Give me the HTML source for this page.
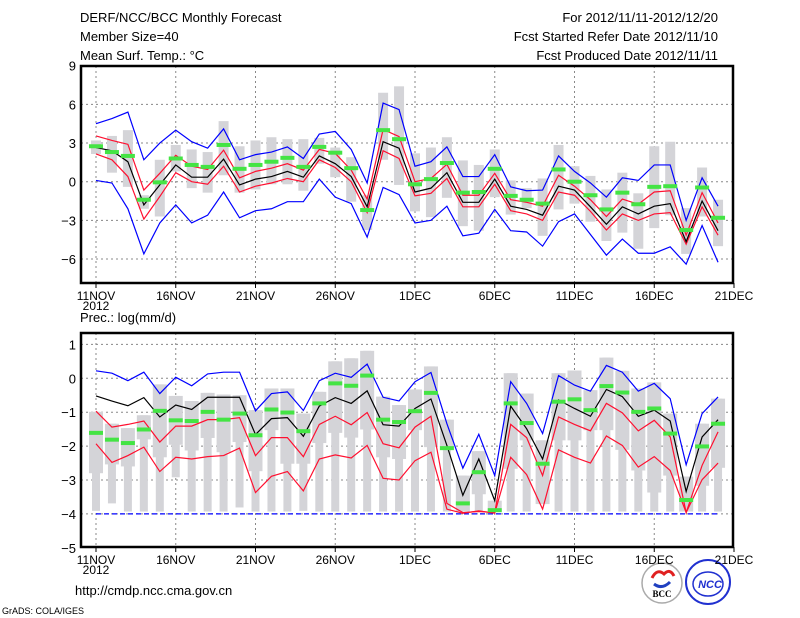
<!DOCTYPE html>
<html><head><meta charset="utf-8"><style>
body{margin:0;background:#fff;width:800px;height:618px;overflow:hidden}
svg{display:block;font-family:"Liberation Sans",sans-serif}
</style></head><body>
<svg id="chart" width="800" height="618" viewBox="0 0 800 618">
<g font-size="13" fill="#000">
<text x="80" y="22">DERF/NCC/BCC Monthly Forecast</text>
<text x="80" y="41">Member Size=40</text>
<text x="80" y="60">Mean Surf. Temp.: °C</text>
<text x="718" y="22" text-anchor="end">For 2012/11/11-2012/12/20</text>
<text x="718" y="41" text-anchor="end">Fcst Started Refer Date 2012/11/10</text>
<text x="718" y="60" text-anchor="end">Fcst Produced Date 2012/11/11</text>
<text x="80" y="322">Prec.: log(mm/d)</text>
<text x="75" y="595">http://cmdp.ncc.cma.gov.cn</text>
<text x="2" y="614" font-size="9">GrADS: COLA/IGES</text>
</g>
<g>
<circle cx="662" cy="583" r="20" fill="#fff" stroke="#aaa" stroke-width="1.5"/>
<path d="M652 578 q5 -10 12 -4 q6 -6 10 2" fill="none" stroke="#e02020" stroke-width="3"/>
<path d="M654 584 q8 6 16 -2" fill="none" stroke="#2040c0" stroke-width="3"/>
<text x="662" y="597" font-size="9" font-weight="bold" text-anchor="middle" font-family="Liberation Serif,serif">BCC</text>
</g>
<g>
<circle cx="708" cy="582" r="22" fill="none" stroke="#2030d0" stroke-width="2"/>
<ellipse cx="708" cy="584" rx="15" ry="12" fill="none" stroke="#2030d0" stroke-width="1.5"/>
<text x="710" y="588" font-size="11" font-weight="bold" font-style="italic" fill="#2030d0" text-anchor="middle">NCC</text>
</g>
<g id="top"></g>
<g id="bot"></g>
</svg>
<script>
const days = [0,1,2,3,4,5,6,7,8,9,10,11,12,13,14,15,16,17,18,19,20,21,22,23,24,25,26,27,28,29,30,31,32,33,34,35,36,37,38,39];
const xTickLabels = ["11NOV","16NOV","21NOV","26NOV","1DEC","6DEC","11DEC","16DEC","21DEC"];
const tTicks = [9,6,3,0,-3,-6];
const pTicks = [1,0,-1,-2,-3,-4,-5];
// temperature
const tBlueHi = [4.5,4.9,5.4,1.7,3.0,4.0,3.1,2.6,4.1,1.7,2.1,2.3,2.7,1.8,3.7,3.9,2.5,-0.1,6.1,5.6,1.2,1.55,2.7,0.4,0.4,2.1,-0.4,-0.7,-0.65,2.0,0.8,-0.1,-1.2,0.3,0.1,1.3,1.3,-3.0,0.3,-1.9];
const tBlueLo = [0.1,-0.1,-2.1,-5.6,-3.2,-1.8,-3.2,-2.6,-0.8,-2.8,-2.25,-2.1,-1.55,-1.55,0.2,-1.2,-1.7,-4.3,-0.45,-1.0,-3.2,-3.0,-1.9,-4.2,-4.0,-2.15,-3.8,-3.9,-5.0,-3.1,-2.5,-4.1,-5.7,-4.45,-5.55,-5.55,-5.05,-6.4,-3.4,-6.25];
const tMean = [2.65,2.4,1.55,-1.8,-0.25,1.3,0.35,0.35,1.75,-0.25,0.2,0.4,0.8,0.35,2.0,1.4,0.4,-1.95,3.1,2.6,-0.8,-0.5,0.7,-1.6,-1.6,0.2,-1.9,-2.15,-2.6,-0.35,-0.65,-1.95,-3.3,-1.95,-2.5,-1.9,-1.7,-4.65,-1.5,-3.8];
const tRedHi = [3.55,3.2,2.9,-0.65,0.65,2.05,1.2,0.95,2.45,0.3,0.8,1.05,1.4,0.9,2.5,2.2,0.9,-1.35,4.05,3.5,0,0.25,1.35,-1.05,-1.05,0.65,-1.4,-1.6,-1.9,0.5,-0.35,-1.4,-2.7,-1.35,-1.75,-0.8,-0.7,-4.15,-0.85,-3.2];
const tRedLo = [2.15,1.7,0.4,-2.9,-1.15,0.7,0,-0.2,1.2,-0.8,-0.35,-0.1,0.25,0,1.7,1.1,0,-2.4,2.4,1.8,-1.1,-0.9,0.25,-1.95,-1.95,-0.2,-2.25,-2.5,-3.0,-0.8,-1.05,-2.3,-3.75,-2.5,-3.0,-2.5,-2.4,-4.85,-1.95,-4.15];
const tObs = [2.75,2.3,2.0,-1.4,-0.05,1.8,1.3,1.15,2.85,1.0,1.3,1.55,1.85,1.15,2.7,2.25,1.05,-2.2,4.0,3.3,-0.2,0.2,1.45,-0.85,-0.8,1.0,-1.1,-1.4,-1.7,0.95,0,-1.05,-2.15,-0.85,-1.75,-0.4,-0.35,-3.75,-0.45,-2.8];
const tBarHi = [3.2,3.55,4.0,-1.05,1.7,2.85,2.5,2.3,4.7,2.75,3.2,3.45,3.3,3.3,3.4,2.65,1.9,-1.05,6.9,7.4,2.2,2.65,3.45,1.65,1.3,2.5,0.1,-0.5,0.25,2.85,1.2,0.45,-0.6,0.7,-0.9,2.75,3.1,-2.05,1.1,-1.4];
const tBarLo = [2.15,0.7,-0.4,-2.1,-2.7,0.8,-0.5,-0.85,0.5,-0.85,-0.6,-0.2,-0.2,-0.7,1.4,0.35,-1.55,-3.75,1.7,-0.25,-2.3,-2.75,-1.25,-3.45,-3.8,-1.2,-2.55,-2.05,-4.2,-2.15,-1.7,-3.1,-4.6,-3.95,-5.2,-3.6,-2.6,-5.6,-2.7,-5.0];
// precipitation
const pBlueHi = [0.22,0.15,-0.07,0.18,-0.45,0.03,-0.22,0.13,0.18,0.18,-0.96,-0.45,-0.4,-0.95,-0.07,0.15,0.03,0.42,-0.56,-0.67,-0.1,0.17,-1.34,-2.65,-1.65,-2.87,-0.1,-0.74,-1.63,0.08,-0.2,-0.38,0.38,0.18,-0.38,-0.15,-0.6,-2.55,-1.04,-0.55];
const pMean = [-0.52,-0.67,-0.81,-0.57,-1.14,-0.79,-0.92,-0.56,-0.56,-0.56,-1.66,-1.19,-1.16,-1.71,-0.82,-0.57,-0.74,-0.37,-1.37,-1.41,-0.89,-0.61,-1.98,-3.45,-2.38,-3.61,-0.82,-1.49,-2.38,-0.64,-0.89,-1.12,-0.33,-0.54,-1.12,-0.94,-1.26,-3.34,-1.73,-1.22];
const pRedHi = [-0.97,-1.44,-1.36,-1.26,-1.88,-1.41,-1.41,-1.22,-1.22,-1.16,-2.28,-1.75,-1.75,-2.31,-1.36,-1.12,-1.37,-1.01,-1.93,-2.05,-1.44,-1.12,-3.69,-3.96,-3.93,-3.96,-1.36,-1.75,-2.87,-1.14,-1.36,-1.55,-0.74,-1.02,-1.55,-1.24,-1.73,-3.96,-2.57,-1.58];
const pRedLo = [-1.93,-2.48,-2.28,-2.03,-2.75,-2.33,-2.38,-2.31,-2.28,-2.06,-3.37,-2.89,-2.75,-3.32,-2.38,-2.26,-2.35,-1.98,-2.95,-3.0,-2.43,-2.18,-3.86,-3.98,-3.91,-3.98,-2.33,-2.84,-3.86,-2.11,-2.33,-2.5,-1.7,-1.98,-2.62,-2.31,-2.72,-3.96,-2.99,-2.5];
const pBlueLo = [-4,-4,-4,-4,-4,-4,-4,-4,-4,-4,-4,-4,-4,-4,-4,-4,-4,-4,-4,-4,-4,-4,-4,-4,-4,-4,-4,-4,-4,-4,-4,-4,-4,-4,-4,-4,-4,-4,-4,-4];
const pObs = [-1.61,-1.81,-1.91,-1.51,-0.96,-1.24,-1.26,-0.99,-1.22,-1.04,-1.68,-0.92,-1.01,-1.56,-0.74,-0.15,-0.22,0.08,-1.22,-1.29,-0.97,-0.43,-2.06,-3.69,-2.77,-3.89,-0.74,-1.32,-2.52,-0.69,-0.62,-0.94,-0.23,-0.42,-0.99,-0.89,-1.63,-3.59,-2.01,-1.34];
const pBarHi = [-0.99,-1.34,-1.47,-1.09,-0.18,-0.52,-0.67,-0.43,-0.48,-0.5,-0.94,-0.3,-0.3,-1.04,-0.4,0.5,0.59,0.81,-0.54,-0.79,-0.33,0.35,-1.22,-2.87,-2.15,-3.61,0.15,-0.45,-1.83,0.15,0.23,-0.35,0.61,0.22,-0.3,-0.12,-1.04,-2.9,-1.34,-0.6];
const pBoxLo = [-2.8,-2.54,-2.6,-1.8,-2.33,-1.96,-2.13,-1.76,-2.18,-1.88,-2.74,-1.53,-2.52,-2.52,-1.91,-1.61,-1.75,-1.51,-2.33,-2.38,-1.53,-2.03,-2.03,-3.93,-3.42,-3.93,-2.67,-1.83,-3.71,-1.83,-1.83,-1.53,-1.53,-2.11,-2.72,-3.37,-2.87,-3.93,-3.17,-2.64];
const pBarLo = [-3.91,-3.69,-3.93,-3.93,-3.93,-2.92,-3.93,-3.93,-3.93,-3.81,-3.93,-3.93,-3.93,-3.91,-3.93,-3.93,-3.93,-3.93,-3.93,-3.93,-3.93,-3.93,-3.93,-3.93,-3.93,-3.93,-3.93,-3.93,-3.71,-3.93,-3.93,-3.93,-3.93,-3.93,-3.93,-3.93,-3.93,-3.93,-3.93,-3.93];

const NS='http://www.w3.org/2000/svg';
function mk(parent,tag,attrs){const e=document.createElementNS(NS,tag);for(const k in attrs)e.setAttribute(k,attrs[k]);parent.appendChild(e);return e;}
const X0=81,X1=733;
function xs(d){return 96+15.95*d;}

function panel(g,top,bot,yf,ticks,bars,lines,obs,name){
  // grid
  for(let i=0;i<8;i++){
    const l=mk(g,'line',{x1:xs(i*5),x2:xs(i*5),y1:top,y2:bot,stroke:'#888','stroke-dasharray':'2,3'});
    
    
  }
  ticks.forEach(t=>{
    const y=yf(t);
    if(y>top+1&&y<bot-1){
      const l=mk(g,'line',{x1:X0,x2:X1,y1:y,y2:y,stroke:'#888','stroke-dasharray':'2,3'});
      
      
    }
    const tx=mk(g,'text',{x:76,y:y+5,'font-size':13,'text-anchor':'end'});
    tx.textContent=(t<0?'\u2212'+(-t):String(t));
    
    
  });
  bars(g);
  lines.forEach(([arr,col,nm,dash])=>{
    const p=mk(g,'polyline',{points:arr.map((v,i)=>xs(days[i])+','+yf(v)).join(' '),fill:'none',stroke:col,'stroke-width':1.2});
    if(dash)p.setAttribute('stroke-dasharray',dash);
    
    
  });
  obs.forEach((v,i)=>{
    const r=mk(g,'rect',{x:xs(days[i])-7,y:yf(v)-2,width:14,height:4,fill:'#44e444'});
    
    
  });
  const f=mk(g,'rect',{x:X0,y:top,width:X1-X0,height:bot-top,fill:'none',stroke:'#000','stroke-width':2.5});
  
  
  xTickLabels.forEach((lab,i)=>{
    const t=mk(g,'line',{x1:xs(i*5),x2:xs(i*5),y1:bot,y2:bot+5,stroke:'#000'});
    
    
    const tx=mk(g,'text',{x:xs(i*5),y:bot+17,'font-size':12,'text-anchor':'middle'});
    tx.textContent=lab;
    
    
  });
  const yr=mk(g,'text',{x:96,y:bot+27,'font-size':12,'text-anchor':'middle'});
  yr.textContent='2012';
  
  
}
const tY=v=>181.7-v*12.89;
const pY=v=>378.3-v*33.9;
const gt=document.getElementById('top');


panel(gt,66,283,tY,tTicks,g=>{
  tBarHi.forEach((v,i)=>{
    const r=mk(g,'rect',{x:xs(days[i])-5,y:tY(v),width:10,height:tY(tBarLo[i])-tY(v),fill:'#d4d4d8'});
    
    
  });
},[[tBlueHi,'#0000ff','blue-upper-line'],[tBlueLo,'#0000ff','blue-lower-line'],[tRedHi,'#ff1030','red-upper-line'],[tRedLo,'#ff1030','red-lower-line'],[tMean,'#000','ensemble-mean-line']],tObs,'temperature');
const gb=document.getElementById('bot');


panel(gb,333,547,pY,pTicks,g=>{
  pBarHi.forEach((v,i)=>{
    const r=mk(g,'rect',{x:xs(days[i])-4,y:pY(v),width:8,height:pY(pBarLo[i])-pY(v),fill:'#d4d4d8'});
    
    
    const b=mk(g,'rect',{x:xs(days[i])-7,y:pY(v),width:14,height:pY(pBoxLo[i])-pY(v),fill:'#d4d4d8'});
    
    
  });
},[[pBlueHi,'#0000ff','blue-upper-line'],[pBlueLo,'#0000ff','blue-lower-line','5,3'],[pRedHi,'#ff1030','red-upper-line'],[pRedLo,'#ff1030','red-lower-line'],[pMean,'#000','ensemble-mean-line']],pObs,'precipitation');
</script>
</body></html>
